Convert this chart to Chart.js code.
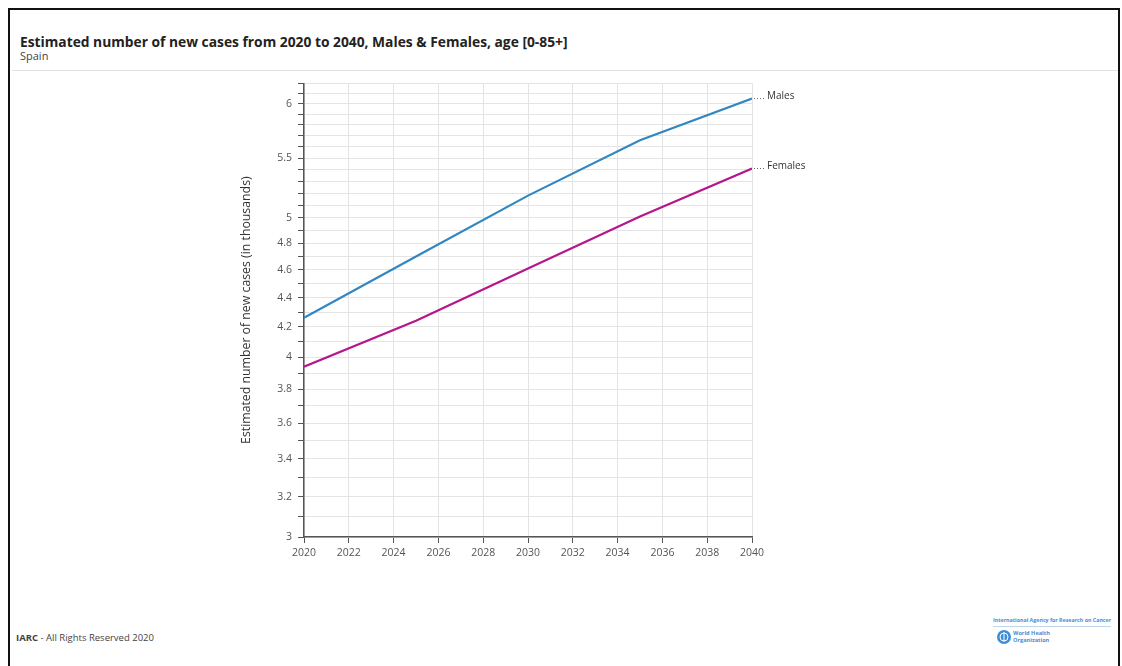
<!DOCTYPE html>
<html>
<head>
<meta charset="utf-8">
<script src="https://cdn.jsdelivr.net/npm/chart.js@4/dist/chart.umd.min.js"></script>
<style>
  body { margin:0; width:1122px; height:666px; background:#fff; font-family:"Open Sans",sans-serif; position:relative; overflow:hidden; }
  #frame { position:absolute; left:8px; top:8px; width:1108px; height:700px; border:2px solid #111; }
  #title { position:absolute; left:20px; top:32px; font-size:13.8px; font-weight:bold; color:#222; }
  #sub { position:absolute; left:20px; top:48px; font-size:11px; color:#444; }
  #sep { position:absolute; left:12px; top:70px; width:1106px; height:1px; background:#e2e2e2; }
  #wrap { position:absolute; left:235px; top:71px; width:615px; height:504px; }
  #foot { position:absolute; left:16px; top:631px; font-size:9.5px; color:#444; }
  #iarc { position:absolute; left:993px; top:616px; font-size:5.3px; color:#3f8fd6; font-weight:bold; white-space:nowrap; border-bottom:1px solid #bcd6ee; padding-bottom:2px; }
  #who { position:absolute; left:996px; top:629px; }
  #whotxt { position:absolute; left:1013px; top:630px; font-size:5.6px; line-height:7px; color:#3f8fd6; font-weight:bold; white-space:nowrap; }
</style>
</head>
<body>
<div id="frame"></div>
<div id="title">Estimated number of new cases from 2020 to 2040, Males &amp; Females, age [0-85+]</div>
<div id="sub">Spain</div>
<div id="sep"></div>
<div id="wrap"><canvas id="c"></canvas></div>
<div id="foot"><b>IARC</b> - All Rights Reserved 2020</div>
<div id="iarc">International Agency for Research on Cancer</div>
<svg id="who" width="16" height="16"><circle cx="8" cy="8" r="7" fill="#3f8fd6"/><circle cx="8" cy="8" r="4" fill="none" stroke="#fff" stroke-width="1"/><line x1="8" y1="3" x2="8" y2="13" stroke="#fff" stroke-width="1"/></svg>
<div id="whotxt">World Health<br>Organization</div>
<script>
const years = [2020, 2025, 2030, 2035, 2040];
const males = [4.26, 4.70, 5.18, 5.66, 6.05];
const females = [3.94, 4.24, 4.61, 5.01, 5.41];
const seriesNames = ['Males', 'Females'];
const seriesColors = ['#3387c0', '#b5168b'];
const yLabels = [3, 3.2, 3.4, 3.6, 3.8, 4, 4.2, 4.4, 4.6, 4.8, 5, 5.5, 6];

// gridlines every 0.1 between 3 and 6.2
let yGrid = [];
for (let i = 30; i <= 62; i++) yGrid.push(i / 10);

const endLabels = {
  id: 'endLabels',
  afterDatasetsDraw(chart) {
    const ctx = chart.ctx;
    chart.data.datasets.forEach((ds, i) => {
      const meta = chart.getDatasetMeta(i);
      const pt = meta.data[meta.data.length - 1];
      ctx.save();
      ctx.strokeStyle = '#666';
      ctx.lineWidth = 1;
      ctx.setLineDash([1, 2]);
      ctx.beginPath();
      ctx.moveTo(pt.x + 2, pt.y);
      ctx.lineTo(pt.x + 14, pt.y);
      ctx.stroke();
      ctx.setLineDash([]);
      ctx.fillStyle = '#333';
      ctx.font = '10px "Open Sans"';
      ctx.textBaseline = 'middle';
      ctx.fillText(ds.label, pt.x + 15, pt.y - 2);
      ctx.restore();
    });
  }
};

new Chart('c', {
  type: 'line',
  data: {
    datasets: [
      { label: seriesNames[0], data: years.map((y, i) => ({x: y, y: males[i]})), borderColor: seriesColors[0] },
      { label: seriesNames[1], data: years.map((y, i) => ({x: y, y: females[i]})), borderColor: seriesColors[1] }
    ]
  },
  options: {
    responsive: true,
    maintainAspectRatio: false,
    animation: false,
    layout: { padding: { top: 1, right: 98, left: 0, bottom: 0 } },
    elements: { point: { radius: 0 }, line: { borderWidth: 2.2, tension: 0 } },
    plugins: { legend: { display: false }, tooltip: { enabled: false } },
    scales: {
      x: {
        type: 'linear', min: 2020, max: 2040,
        grid: { color: '#e4e4e4', tickColor: '#555', tickLength: 6 },
        border: { color: '#555', width: 1.5 },
        ticks: { stepSize: 2, color: '#555', font: { size: 10.5, family: 'Open Sans' }, padding: 4,
                 callback: v => String(v) },
        afterFit: s => { s.height = 38; }
      },
      y: {
        type: 'logarithmic', min: 3, max: 6.2,
        afterBuildTicks: s => { s.ticks = yGrid.map(v => ({value: v})); },
        grid: { color: '#e4e4e4', tickColor: '#555', tickLength: 6 },
        border: { color: '#555', width: 1.5 },
        ticks: { autoSkip: false, color: '#555', font: { size: 10.5, family: 'Open Sans' }, padding: 6,
                 callback: v => yLabels.some(l => Math.abs(l - v) < 1e-6) ? String(v) : '' },
        title: { display: true, text: 'Estimated number of new cases (in thousands)', color: '#333',
                 font: { size: 12.3, family: 'Open Sans' } },
        afterFit: s => { s.width = 69; }
      }
    }
  },
  plugins: [endLabels]
});
</script>
</body>
</html>
